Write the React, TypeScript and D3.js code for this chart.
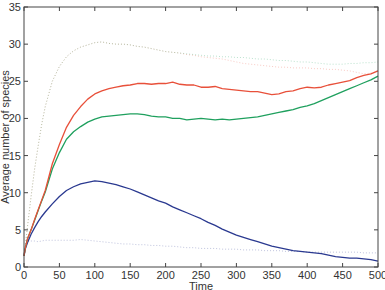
import React from "react";
import * as d3 from "d3";

// sample times shared by every series
const times = [
  0, 2, 5, 10, 15, 20, 25, 30, 40, 50, 60, 70, 80, 90, 100, 110, 120, 130, 140,
  150, 160, 170, 180, 190, 200, 210, 220, 230, 240, 250, 260, 270, 280, 290, 300,
  310, 320, 330, 340, 350, 360, 370, 380, 390, 400, 410, 420, 430, 440, 450, 460,
  470, 480, 490, 500,
];

const redMean = [
  1.5, 2.6, 3.8, 5.0, 6.4, 7.7, 9.0, 10.3, 13.9, 16.5, 18.8, 20.4, 21.6, 22.6,
  23.3, 23.7, 24.0, 24.2, 24.4, 24.5, 24.7, 24.7, 24.6, 24.7, 24.7, 24.9, 24.6,
  24.5, 24.5, 24.2, 24.2, 24.3, 24.0, 23.9, 23.8, 23.7, 23.6, 23.6, 23.4, 23.2,
  23.3, 23.6, 23.7, 24.0, 24.2, 24.1, 24.2, 24.5, 24.7, 24.9, 25.1, 25.5, 25.8,
  26.0, 26.4,
];

const greenMean = [
  1.5, 2.6, 3.8, 5.0, 6.3, 7.6, 8.9, 10.1, 13.2, 15.4, 17.2, 18.2, 18.9, 19.5,
  19.9, 20.2, 20.3, 20.4, 20.5, 20.6, 20.6, 20.5, 20.3, 20.2, 20.2, 20.0, 20.0,
  19.8, 19.9, 20.0, 19.9, 19.8, 19.9, 19.8, 19.9, 20.0, 20.1, 20.2, 20.4, 20.6,
  20.8, 21.0, 21.2, 21.5, 21.7, 22.0, 22.4, 22.8, 23.2, 23.6, 24.0, 24.4, 24.8,
  25.2, 25.7,
];

const blueMean = [
  1.5, 2.5, 3.3, 4.4, 5.3, 6.1, 6.8, 7.4, 8.5, 9.5, 10.3, 10.8, 11.2, 11.4, 11.6,
  11.5, 11.3, 11.1, 10.8, 10.5, 10.1, 9.7, 9.3, 8.9, 8.6, 8.1, 7.7, 7.3, 6.9, 6.5,
  6.0, 5.6, 5.1, 4.7, 4.3, 4.0, 3.7, 3.4, 3.1, 2.8, 2.6, 2.4, 2.2, 2.1, 2.0, 1.9,
  1.8, 1.6, 1.4, 1.3, 1.2, 1.2, 1.1, 1.0, 0.8,
];

const redUpper = [
  1.5, 3.0, 5.5, 9.5, 13.2, 16.3, 19.2, 21.6, 25.0, 27.0, 28.3, 29.1, 29.6, 29.9,
  30.2, 30.3, 30.1, 30.0, 30.0, 29.9, 29.7, 29.6, 29.4, 29.2, 29.0, 28.9, 28.8,
  28.6, 28.5, 28.3, 28.2, 28.1, 28.0, 27.8, 27.6, 27.4, 27.3, 27.2, 27.1, 27.0,
  26.9, 26.9, 26.8, 26.8, 26.8, 26.7, 26.7, 26.6, 26.6, 26.5, 26.4, 26.2, 26.0,
  26.1, 26.4,
];

const greenUpper = [
  1.5, 3.0, 5.5, 9.5, 13.2, 16.3, 19.2, 21.6, 25.0, 27.0, 28.3, 29.1, 29.6, 29.9,
  30.2, 30.3, 30.1, 30.0, 30.0, 29.9, 29.7, 29.6, 29.4, 29.2, 29.0, 28.9, 28.8,
  28.7, 28.6, 28.5, 28.4, 28.4, 28.3, 28.3, 28.2, 28.2, 28.1, 28.0, 28.0, 27.9,
  27.8, 27.8, 27.7, 27.6, 27.6, 27.5, 27.4, 27.3, 27.3, 27.3, 27.4, 27.4, 27.5,
  27.5, 27.6,
];

const blueLower = [
  1.5, 2.5, 3.4, 3.5, 3.5, 3.4, 3.5, 3.6, 3.6, 3.6, 3.6, 3.6, 3.7, 3.6, 3.5, 3.4,
  3.3, 3.2, 3.1, 3.1, 3.0, 3.0, 2.9, 2.9, 2.8, 2.8, 2.7, 2.6, 2.6, 2.5, 2.5, 2.5,
  2.4, 2.4, 2.4, 2.3, 2.3, 2.3, 2.2, 2.2, 2.2, 2.1, 2.1, 2.1, 2.0, 2.0, 2.0, 2.0,
  2.0, 2.0, 2.0, 2.0, 1.9, 1.9, 1.9,
];

const xTicks = [0, 50, 100, 150, 200, 250, 300, 350, 400, 450, 500];
const yTicks = [0, 5, 10, 15, 20, 25, 30, 35];

const RED = "#e8503a";
const GREEN = "#1fa05e";
const BLUE = "#2a3990";

const width = 385;
const height = 290;
const margin = { top: 7, right: 7, bottom: 23, left: 24 };

const App: React.FC = () => {
  const x = d3
    .scaleLinear()
    .domain([0, 500])
    .range([margin.left, width - margin.right]);
  const y = d3
    .scaleLinear()
    .domain([0, 35])
    .range([height - margin.bottom, margin.top]);

  const line = d3
    .line<number>()
    .x((_, i) => x(times[i]))
    .y((d) => y(d));

  const dotted = [
    { values: blueLower, color: BLUE },
    { values: redUpper, color: RED },
    { values: greenUpper, color: GREEN },
  ];
  const solid = [
    { values: blueMean, color: BLUE },
    { values: greenMean, color: GREEN },
    { values: redMean, color: RED },
  ];

  const x0 = x(0);
  const x1 = x(500);
  const y0 = y(0);
  const y1 = y(35);
  const tickLen = 4;
  const axisColor = "#444";
  const font = "'Liberation Sans', Arial, sans-serif";

  return (
    <svg
      width={width}
      height={height}
      style={{ position: "absolute", left: 0, top: 0, background: "#fff" }}
      fontFamily={font}
    >
      {dotted.map((s, i) => (
        <path
          key={`d${i}`}
          d={line(s.values) ?? ""}
          fill="none"
          stroke={s.color}
          strokeOpacity={0.3}
          strokeWidth={1}
          strokeDasharray="1,2"
        />
      ))}
      {solid.map((s, i) => (
        <path
          key={`s${i}`}
          d={line(s.values) ?? ""}
          fill="none"
          stroke={s.color}
          strokeWidth={1.3}
          strokeLinejoin="round"
        />
      ))}

      {/* frame with inward ticks on all sides */}
      <rect
        x={x0}
        y={y1}
        width={x1 - x0}
        height={y0 - y1}
        fill="none"
        stroke={axisColor}
        strokeWidth={1}
      />
      {xTicks.map((t) => (
        <g key={`xt${t}`}>
          <line x1={x(t)} x2={x(t)} y1={y0} y2={y0 - tickLen} stroke={axisColor} />
          <line x1={x(t)} x2={x(t)} y1={y1} y2={y1 + tickLen} stroke={axisColor} />
          <text
            x={x(t)}
            y={y0 + 11.5}
            textAnchor="middle"
            fontSize={11}
            fill="#333"
          >
            {t}
          </text>
        </g>
      ))}
      {yTicks.map((t) => (
        <g key={`yt${t}`}>
          <line x1={x0} x2={x0 + tickLen} y1={y(t)} y2={y(t)} stroke={axisColor} />
          <line x1={x1} x2={x1 - tickLen} y1={y(t)} y2={y(t)} stroke={axisColor} />
          <text
            x={x0 - 3}
            y={y(t)}
            dy="0.36em"
            textAnchor="end"
            fontSize={11}
            fill="#333"
          >
            {t}
          </text>
        </g>
      ))}

      <text
        x={(x0 + x1) / 2}
        y={height - 0.5}
        textAnchor="middle"
        fontSize={11}
        fill="#333"
      >
        Time
      </text>
      <text
        transform={`translate(9, ${(y0 + y1) / 2}) rotate(-90)`}
        textAnchor="middle"
        fontSize={11}
        fill="#333"
      >
        Average number of species
      </text>
    </svg>
  );
};

export default App;
